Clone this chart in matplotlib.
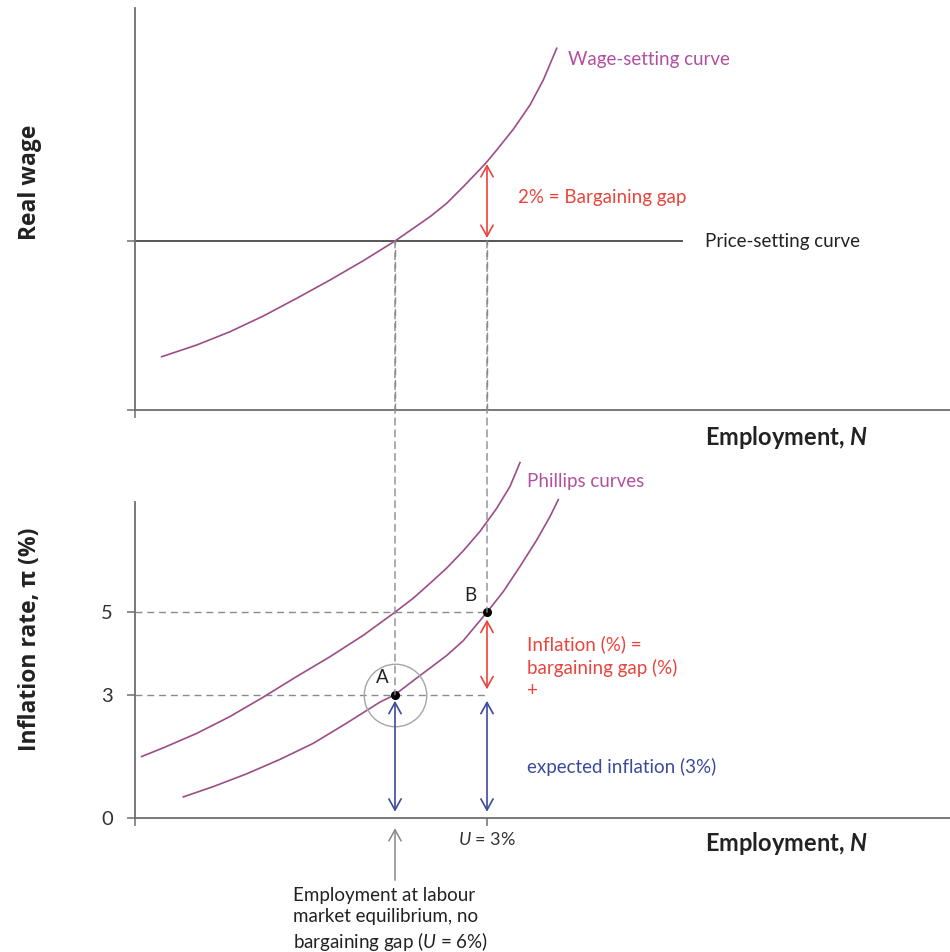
import matplotlib.pyplot as plt
from matplotlib.patches import ConnectionPatch

plt.rcParams['font.family'] = ['Lato', 'DejaVu Sans']
plt.rcParams['mathtext.fontset'] = 'custom'
plt.rcParams['mathtext.rm'] = 'Lato'
plt.rcParams['mathtext.it'] = 'Lato:italic'
plt.rcParams['mathtext.bf'] = 'Lato:bold'
plt.rcParams['mathtext.bfit'] = 'Lato:bold:italic'

# top panel: wage-setting curve (employment, real wage)
wage_x = [2.67, 6.17, 9.5, 12.83, 16.17, 19.5, 22.83, 26.0, 29.5, 31.17, 32.83,
          34.5, 35.2, 36.17, 37.83, 39.5, 40.83, 42.17]
wage_y = [5.33, 6.5, 7.83, 9.4, 11.17, 13.0, 14.93, 16.9, 19.33, 20.67, 22.33,
          24.07, 24.83, 26.0, 28.07, 30.5, 33.0, 36.17]
price_level = 16.9
price_x = [0, 54.7]

# bottom panel: the two Phillips curves (employment, inflation %)
pc_low_x = [4.83, 7.83, 11.17, 14.5, 17.83, 21.17, 24.5, 26.0, 27.83, 31.17, 32.83,
            35.2, 36.83, 38.5, 40.17, 41.5, 42.33]
pc_low_y = [0.52, 0.77, 1.08, 1.43, 1.82, 2.31, 2.82, 3.0, 3.34, 3.95, 4.31,
            5.0, 5.5, 6.11, 6.75, 7.32, 7.73]
pc_high_x = [0.67, 2.83, 6.17, 9.5, 12.83, 16.17, 19.5, 22.83, 26.0, 27.83, 29.5,
             31.17, 32.83, 34.5, 36.17, 37.5, 38.5]
pc_high_y = [1.5, 1.71, 2.06, 2.47, 2.94, 3.44, 3.92, 4.44, 5.0, 5.34, 5.7,
             6.07, 6.49, 6.96, 7.52, 8.05, 8.63]

n_eq = 26.0   # point A, no bargaining gap
n_b = 35.2    # point B
pi_a = 3
pi_b = 5
yticks = [0, 3, 5]

purple = '#9c4d86'
purple_txt = '#b0509f'
red = '#e8453c'
blue = '#3c4a9c'
grey_axis = '#6e6e6e'
grey_dash = '#8a8a8a'
dash = (0, (5, 3.5))
fs = 13.5

fig = plt.figure(figsize=(9.5, 9.52), dpi=100)
ax1 = fig.add_axes([0.1421, 0.5693, 0.8579, 0.4223])
ax2 = fig.add_axes([0.1421, 0.1404, 0.8579, 0.3326])

for ax in (ax1, ax2):
    for s in ['top', 'right']:
        ax.spines[s].set_visible(False)
    for s in ['left', 'bottom']:
        ax.spines[s].set_color(grey_axis)
        ax.spines[s].set_linewidth(1.3)
    ax.tick_params(length=6, width=1.1, color=grey_axis, labelcolor='#333')
    ax.set_xlim(0, 81.5)

# ---- top panel
ax1.set_ylim(0, 40.2)
ax1.set_xticks([0], [''])
ax1.set_yticks([0, price_level], ['', ''])

ax1.plot(price_x, [price_level, price_level], color='#555', lw=1.4)
ax1.plot(wage_x, wage_y, color=purple, lw=1.2)
ax1.plot([n_eq, n_eq], [0, price_level], color=grey_dash, lw=1, ls=dash)
ax1.plot([n_b, n_b], [0, price_level], color=grey_dash, lw=1, ls=dash)

ax1.annotate('', xy=(n_b, 24.6), xytext=(n_b, 17.2),
             arrowprops=dict(arrowstyle='<->,head_length=0.4,head_width=0.22',
                             color=red, lw=1.2, shrinkA=0, shrinkB=0,
                             mutation_scale=20))

ax1.text(43.3, 35.1, 'Wage-setting curve', color=purple_txt, fontsize=fs, va='center')
ax1.text(38.3, 21.3, '2% = Bargaining gap', color=red, fontsize=fs, va='center')
ax1.text(57.0, price_level, 'Price-setting curve', color='#222', fontsize=fs, va='center')
ax1.text(57.0, -2.7, r'Employment, $\mathbfit{N}$', fontsize=17, fontweight='bold',
         color='#222', va='center')

# ---- bottom panel
ax2.set_ylim(0, 7.68)
ax2.set_yticks(yticks, [str(v) for v in yticks], fontsize=14.5)
ax2.set_xticks([0, n_b], ['', r'$U$ = 3%'], fontsize=13)
ax2.tick_params(axis='y', pad=10)
ax2.tick_params(axis='x', pad=3)

ax2.plot([0, n_b], [pi_b, pi_b], color=grey_dash, lw=1, ls=dash)
ax2.plot([0, n_b], [pi_a, pi_a], color=grey_dash, lw=1, ls=dash)
ax2.plot(pc_high_x, pc_high_y, color=purple, lw=1.2, clip_on=False)
ax2.plot(pc_low_x, pc_low_y, color=purple, lw=1.2, clip_on=False)

# dashed guides running from the price-setting line down into the lower panel
for nx, py in [(n_eq, pi_a), (n_b, pi_b)]:
    con = ConnectionPatch((nx, price_level), (nx, py), coordsA=ax1.transData,
                          coordsB=ax2.transData, color=grey_dash, lw=1, ls=dash)
    fig.add_artist(con)

ax2.plot([n_eq], [pi_a], 'o', ms=45, mfc='none', mec='#a5a5a5', mew=1)
ax2.plot([n_eq, n_b], [pi_a, pi_b], 'o', color='black', ms=5.5)

ax2.text(33.5, 5.40, 'B', fontsize=fs, ha='center', va='center', color='#222')
ax2.text(24.7, 3.42, 'A', fontsize=fs, ha='center', va='center', color='#222')

arrow_kw = dict(arrowstyle='<->,head_length=0.4,head_width=0.22', lw=1.2,
                shrinkA=0, shrinkB=0, mutation_scale=20)
ax2.annotate('', xy=(n_b, 4.82), xytext=(n_b, 3.13), arrowprops=dict(color=red, **arrow_kw))
ax2.annotate('', xy=(n_eq, 2.85), xytext=(n_eq, 0.16), arrowprops=dict(color=blue, **arrow_kw))
ax2.annotate('', xy=(n_b, 2.85), xytext=(n_b, 0.16), arrowprops=dict(color=blue, **arrow_kw))

ax2.text(39.2, 8.16, 'Phillips curves', color=purple_txt, fontsize=fs, va='center')
ax2.text(39.2, 4.44, 'Inflation (%) =\nbargaining gap (%)\n+', color=red, fontsize=fs,
         va='top', linespacing=1.38)
ax2.text(39.2, 1.25, 'expected inflation (3%)', color=blue, fontsize=fs, va='center')
ax2.text(57.0, -0.6, r'Employment, $\mathbfit{N}$', fontsize=17, fontweight='bold',
         color='#222', va='center')

ax2.annotate('', xy=(n_eq, -0.24), xytext=(n_eq, -1.5), annotation_clip=False,
             arrowprops=dict(arrowstyle='->,head_length=0.4,head_width=0.22',
                             color='#888', lw=1.1, shrinkA=0, shrinkB=0,
                             mutation_scale=20))
ax2.text(15.8, -1.66, 'Employment at labour\nmarket equilibrium, no\nbargaining gap ($U$ = 6%)',
         fontsize=fs, va='top', color='#222', linespacing=1.3)

fig.text(30 / 950, 1 - 182.5 / 952, 'Real wage', rotation=90, ha='center', va='center',
         fontsize=16.5, fontweight='bold', color='#222', family=['Open Sans', 'DejaVu Sans'])
fig.text(30 / 950, 1 - 639 / 952, 'Inflation rate, π (%)', rotation=90, ha='center',
         va='center', fontsize=16.5, fontweight='bold', color='#222',
         family=['Open Sans', 'DejaVu Sans'])

fig.savefig('out.png', dpi=100)
